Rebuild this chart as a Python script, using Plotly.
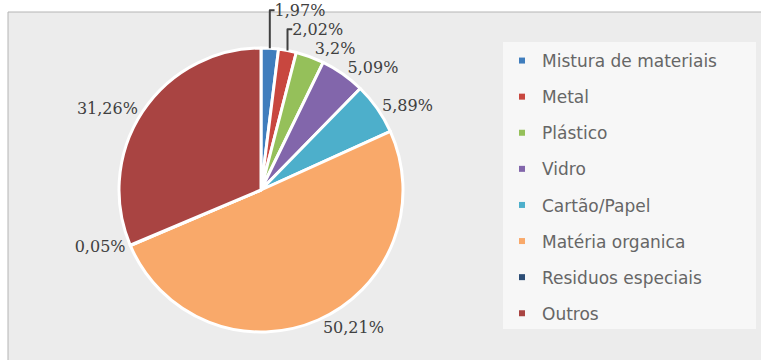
import plotly.graph_objects as go

# Composição dos resíduos (%)
categories = [
    "Mistura de materiais",
    "Metal",
    "Plástico",
    "Vidro",
    "Cartão/Papel",
    "Matéria organica",
    "Residuos especiais",
    "Outros",
]
values = [1.97, 2.02, 3.2, 5.09, 5.89, 50.21, 0.05, 31.26]
colors = [
    "#3F7DBD",
    "#C8473F",
    "#95C05A",
    "#8266AB",
    "#4DAFCB",
    "#F9A96A",
    "#2C4D75",
    "#A94442",
]

W, H = 761, 360

labels_pct = [f"{v:g}".replace(".", ",") + "%" for v in values]

fig = go.Figure()

fig.add_trace(
    go.Pie(
        labels=categories,
        values=values,
        text=labels_pct,
        textinfo="text",
        textposition="outside",
        sort=False,
        direction="clockwise",
        rotation=0,
        marker=dict(colors=colors, line=dict(color="white", width=3)),
        outsidetextfont=dict(family="DejaVu Serif", size=16, color="#404040"),
        showlegend=False,
        domain=dict(x=[(261 - 142) / W, (261 + 142) / W], y=[(170 - 142) / H, (170 + 142) / H]),
        hoverinfo="label+text",
    )
)

# Legend entries (one per category, spaced as groups)
for name, col in zip(categories, colors):
    fig.add_trace(
        go.Scatter(
            x=[None],
            y=[None],
            mode="markers",
            name=name,
            legendgroup=name,
            marker=dict(symbol="square", size=6, color=col),
            showlegend=True,
        )
    )

fig.update_layout(
    width=W,
    height=H,
    margin=dict(l=0, r=0, t=0, b=0, autoexpand=False),
    paper_bgcolor="white",
    plot_bgcolor="rgba(0,0,0,0)",
    xaxis=dict(visible=False),
    yaxis=dict(visible=False),
    legend=dict(
        x=502 / W,
        y=1 - 43 / H,
        xanchor="left",
        yanchor="top",
        bgcolor="rgba(0,0,0,0)",
        font=dict(family="DejaVu Sans", size=17, color="#666666"),
        tracegroupgap=11,
        itemwidth=30,
    ),
    shapes=[
        # chart area
        dict(
            type="rect", xref="paper", yref="paper",
            x0=8 / W, x1=1.02, y0=-0.02, y1=1 - 12 / H,
            fillcolor="#ECECEC", line=dict(color="#B4B4B4", width=1),
            layer="below",
        ),
        # legend panel
        dict(
            type="rect", xref="paper", yref="paper",
            x0=503 / W, x1=756 / W, y0=1 - 329 / H, y1=1 - 42 / H,
            fillcolor="#F7F7F7", line=dict(width=0),
            layer="below",
        ),
    ],
)

fig.write_html("out.html")
